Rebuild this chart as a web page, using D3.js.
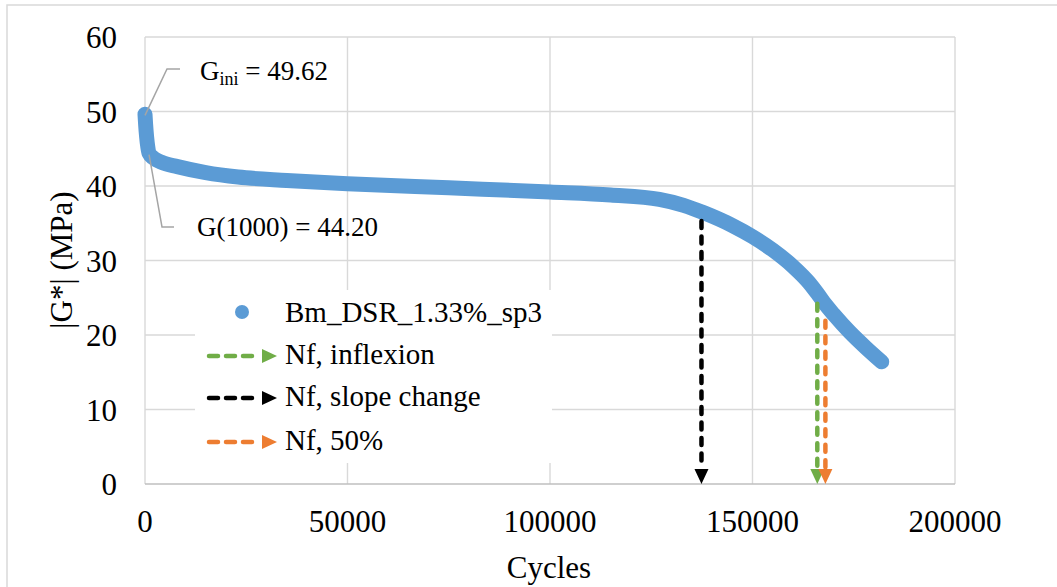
<!DOCTYPE html>
<html lang="en">
<head>
<meta charset="UTF-8">
<title>G* vs Cycles</title>
<script src="https://d3js.org/d3.v7.min.js"></script>
<style>
  body { margin: 0; background: #fff; }
  text { font-family: "Liberation Serif", "Times New Roman", serif; fill: #000; }
</style>
</head>
<body>
<script>
// data
var cycles = [0, 150, 400, 700, 1000, 2000, 4000, 8000, 15000, 23000, 35000, 50000, 75000,
  100000, 115000, 127000, 133000, 138000, 145000, 150000, 155000, 160000, 164000, 166000,
  168000, 170000, 174000, 178000, 181900];
var modulus = [49.62, 48.3, 46.6, 45.2, 44.4, 43.8, 43.2, 42.6, 41.8, 41.2, 40.75, 40.3, 39.75,
  39.2, 38.8, 38.2, 37.4, 36.4, 34.7, 33.2, 31.4, 29.2, 27.0, 25.6,
  24.1, 22.8, 20.4, 18.3, 16.4];

var xTicks = [0, 50000, 100000, 150000, 200000];
var yTicks = [0, 10, 20, 30, 40, 50, 60];

var arrowNames = ["Nf, inflexion", "Nf, slope change", "Nf, 50%"];
var arrowCycles = [166000, 137400, 168000];
var arrowTop = [24.6, 35.7, 22.3];
var arrowColors = ["#70ad47", "#000000", "#ed7d31"];

var seriesName = "Bm_DSR_1.33%_sp3";
var seriesColor = "#5b9bd5";

var w = 1057, h = 587;
var svg = d3.select("body").append("svg").attr("width", w).attr("height", h);

// outer chart border
svg.append("rect").attr("x", 7).attr("y", 5).attr("width", 1060).attr("height", 600)
  .attr("fill", "none").attr("stroke", "#d9d9d9").attr("stroke-width", 1.5);

var x = d3.scaleLinear().domain([0, 200000]).range([145, 955]);
var y = d3.scaleLinear().domain([0, 60]).range([484, 37]);

// gridlines
svg.append("g").selectAll("line").data(yTicks.slice(1)).enter().append("line")
  .attr("x1", 145).attr("x2", 955)
  .attr("y1", function (d) { return y(d); }).attr("y2", function (d) { return y(d); })
  .attr("stroke", "#d9d9d9").attr("stroke-width", 1.4);
svg.append("g").selectAll("line").data(xTicks).enter().append("line")
  .attr("y1", y(0)).attr("y2", y(60))
  .attr("x1", function (d) { return x(d); }).attr("x2", function (d) { return x(d); })
  .attr("stroke", "#d9d9d9").attr("stroke-width", 1.4);

// bottom axis line
svg.append("line").attr("x1", 145).attr("x2", 955).attr("y1", y(0)).attr("y2", y(0))
  .attr("stroke", "#bfbfbf").attr("stroke-width", 1.6);

// tick labels
svg.append("g").selectAll("text").data(yTicks).enter().append("text")
  .attr("x", 117).attr("y", function (d) { return y(d) + 11; })
  .attr("text-anchor", "end").attr("font-size", "31px")
  .text(function (d) { return d; });
svg.append("g").selectAll("text").data(xTicks).enter().append("text")
  .attr("x", function (d) { return x(d); }).attr("y", 532)
  .attr("text-anchor", "middle").attr("font-size", "31px")
  .text(function (d) { return d; });

// axis titles
svg.append("text").attr("x", 549).attr("y", 578).attr("text-anchor", "middle")
  .attr("font-size", "31px").text("Cycles");
svg.append("text").attr("transform", "translate(72,260) rotate(-90)")
  .attr("text-anchor", "middle").attr("font-size", "31px").text("|G*| (MPa)");

// curve (dense markers drawn as a thick round line)
var pts = cycles.map(function (c, i) { return [c, modulus[i]]; });
var line = d3.line()
  .x(function (d) { return x(d[0]); })
  .y(function (d) { return y(d[1]); })
  .curve(d3.curveMonotoneX);
svg.append("path").datum(pts).attr("d", line)
  .attr("fill", "none").attr("stroke", seriesColor).attr("stroke-width", 15)
  .attr("stroke-linecap", "round").attr("stroke-linejoin", "round");

// arrows
function downArrow(g, cx, topVal, color) {
  var tip = y(0);
  g.append("line").attr("x1", cx).attr("x2", cx).attr("y1", y(topVal) + 3).attr("y2", tip - 16)
    .attr("stroke", color).attr("stroke-width", 4.5).attr("stroke-dasharray", "7,8.5")
    .attr("stroke-linecap", "round");
  g.append("path")
    .attr("d", "M" + (cx - 7) + "," + (tip - 15) + "L" + (cx + 7) + "," + (tip - 15) + "L" + cx + "," + tip + "Z")
    .attr("fill", color);
}
var ag = svg.append("g");
arrowCycles.forEach(function (c, i) {
  downArrow(ag, x(c), arrowTop[i], arrowColors[i]);
});

// annotations
var ann = svg.append("g");
ann.append("polyline")
  .attr("points", [[x(0), y(49.62) + 1], [167, 69], [180, 69]].join(" "))
  .attr("fill", "none").attr("stroke", "#a5a5a5").attr("stroke-width", 1.5);
ann.append("polyline")
  .attr("points", [[x(1000), y(44.2)], [162, 227], [174, 227]].join(" "))
  .attr("fill", "none").attr("stroke", "#a5a5a5").attr("stroke-width", 1.5);
var t1 = ann.append("text").attr("x", 200).attr("y", 80).attr("font-size", "27px");
t1.append("tspan").text("G");
t1.append("tspan").attr("font-size", "18px").attr("dy", 5).text("ini");
t1.append("tspan").attr("dy", -5).text(" = 49.62");
ann.append("text").attr("x", 197).attr("y", 236).attr("font-size", "27px").text("G(1000) = 44.20");

// legend
var lg = svg.append("g");
lg.append("rect").attr("x", 195).attr("y", 290).attr("width", 357).attr("height", 173).attr("fill", "#fff");
lg.append("circle").attr("cx", 242).attr("cy", 312).attr("r", 7).attr("fill", seriesColor);
lg.append("text").attr("x", 285).attr("y", 322).attr("font-size", "29px").text(seriesName);
var rowY = [356, 398, 442];
arrowNames.forEach(function (name, i) {
  var yy = rowY[i];
  lg.append("line").attr("x1", 209).attr("x2", 260).attr("y1", yy).attr("y2", yy)
    .attr("stroke", arrowColors[i]).attr("stroke-width", 4.5).attr("stroke-dasharray", "9,8")
    .attr("stroke-linecap", "round");
  lg.append("path")
    .attr("d", "M262," + (yy - 7) + "L277," + yy + "L262," + (yy + 7) + "Z")
    .attr("fill", arrowColors[i]);
  lg.append("text").attr("x", 285).attr("y", yy + 8).attr("font-size", "29px").text(name);
});
</script>
</body>
</html>
